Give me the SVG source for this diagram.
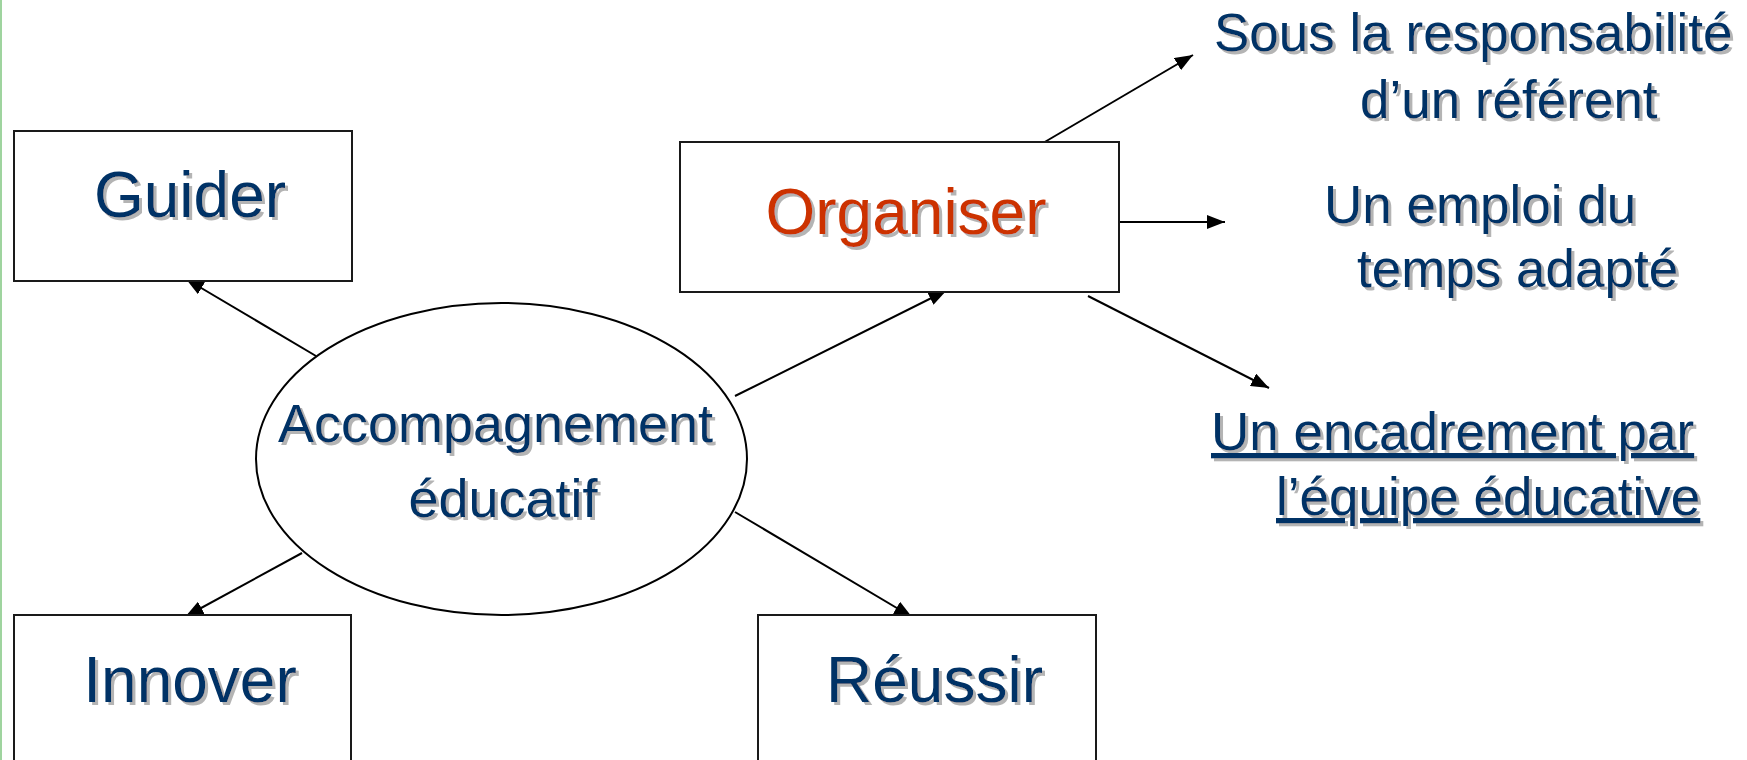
<svg xmlns="http://www.w3.org/2000/svg" width="1747" height="760" viewBox="0 0 1747 760">
  <defs>
    <style>
      .box { fill: #ffffff; stroke: #1a1a1a; stroke-width: 2; }
      .conn { stroke: #000000; stroke-width: 2; fill: none; marker-end: url(#arrow); }
      .lbl { font-family: "Liberation Sans", Arial, sans-serif; fill: #003366; filter: url(#shadow); }
      .big { font-size: 64px; text-anchor: middle; }
      .mid { font-size: 54px; text-anchor: middle; }
      .side { font-size: 53px; }
      .red { fill: #cc3300; }
      .ul { text-decoration: underline; }
    </style>
    <filter id="shadow" x="-5%" y="-20%" width="115%" height="150%">
      <feOffset in="SourceAlpha" dx="2.5" dy="2.5" result="off"/>
      <feFlood flood-color="#b4b4b4"/>
      <feComposite in2="off" operator="in" result="sh"/>
      <feMerge>
        <feMergeNode in="sh"/>
        <feMergeNode in="SourceGraphic"/>
      </feMerge>
    </filter>
    <marker id="arrow" markerUnits="userSpaceOnUse" viewBox="0 -7 18 14" refX="18" refY="0" markerWidth="18" markerHeight="14" orient="auto">
      <path d="M0,-7 L18,0 L0,7 Z" fill="#000000"/>
    </marker>
  </defs>

  <rect x="0" y="0" width="1747" height="760" fill="#ffffff"/>
  <rect x="0" y="0" width="2" height="760" fill="#9fd49f"/>

  <g id="connectors">
    <line class="conn" x1="316" y1="356" x2="186" y2="279"/>
    <line class="conn" x1="735" y1="396" x2="946.5" y2="290.5"/>
    <line class="conn" x1="302" y1="553" x2="185.5" y2="616.5"/>
    <line class="conn" x1="735" y1="512" x2="912" y2="617"/>
    <line class="conn" x1="1043" y1="143" x2="1193" y2="55"/>
    <line class="conn" x1="1119" y1="222" x2="1225" y2="222"/>
    <line class="conn" x1="1088" y1="296" x2="1269" y2="388"/>
  </g>

  <g id="node-center">
    <ellipse cx="501.5" cy="459" rx="245.5" ry="156" fill="#ffffff" stroke="#000000" stroke-width="2"/>
    <text class="lbl mid" x="495.5" y="442">Accompagnement</text>
    <text class="lbl mid" x="503" y="517">éducatif</text>
  </g>

  <g id="node-guider">
    <rect class="box" x="14" y="131" width="338" height="150"/>
    <text class="lbl big" x="190" y="217">Guider</text>
  </g>

  <g id="node-organiser">
    <rect class="box" x="680" y="142" width="439" height="150"/>
    <text class="lbl big red" x="906" y="234">Organiser</text>
  </g>

  <g id="node-innover">
    <rect class="box" x="14" y="615" width="337" height="170"/>
    <text class="lbl big" x="190" y="702">Innover</text>
  </g>

  <g id="node-reussir">
    <rect class="box" x="758" y="615" width="338" height="170"/>
    <text class="lbl big" x="934.5" y="702">Réussir</text>
  </g>

  <g id="node-referent">
    <text class="lbl side" x="1214" y="51">Sous la responsabilité</text>
    <text class="lbl side" x="1360" y="118">d’un référent</text>
  </g>

  <g id="node-emploi">
    <text class="lbl side" x="1324" y="223">Un emploi du</text>
    <text class="lbl side" x="1357" y="287">temps adapté</text>
  </g>

  <g id="node-encadrement">
    <text class="lbl side ul" x="1211" y="450">Un encadrement par</text>
    <text class="lbl side ul" x="1276" y="515">l’équipe éducative</text>
  </g>
</svg>
